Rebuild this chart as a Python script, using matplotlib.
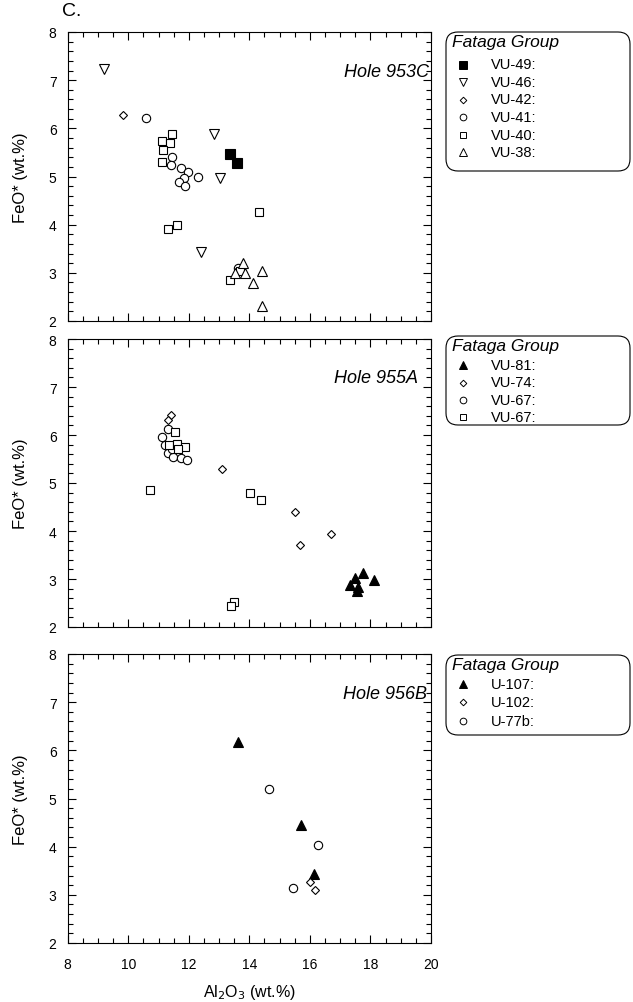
import matplotlib
matplotlib.use("Agg")
import matplotlib.pyplot as plt
from matplotlib.patches import FancyBboxPatch
from matplotlib.ticker import MultipleLocator

plt.rcParams["font.family"] = ["Liberation Sans", "DejaVu Sans"]

# Hole 953C
vu49_al = [13.36, 13.58]
vu49_fe = [5.46, 5.27]
vu46_al = [9.21, 12.84, 13.03, 12.40]
vu46_fe = [7.24, 5.89, 4.97, 3.43]
vu42_al = [9.84]
vu42_fe = [6.28]
vu41_al = [10.59, 11.45, 11.40, 11.74, 11.96, 11.85, 11.68, 11.87, 12.29, 13.62]
vu41_fe = [6.21, 5.41, 5.23, 5.17, 5.10, 4.96, 4.88, 4.81, 4.99, 3.10]
vu40_al = [11.44, 11.10, 11.38, 11.16, 11.13, 11.32, 11.60, 14.32, 13.36, 13.68]
vu40_fe = [5.875, 5.74, 5.70, 5.54, 5.31, 3.90, 3.99, 4.26, 2.85, 3.04]
vu38_al = [13.80, 13.52, 13.85, 14.43, 14.13, 14.43]
vu38_fe = [3.20, 3.00, 3.00, 3.03, 2.79, 2.32]

# Hole 955A
vu81_al = [17.74, 17.48, 18.12, 17.34, 17.59, 17.56]
vu81_fe = [3.12, 3.02, 2.97, 2.87, 2.83, 2.76]
vu74_al = [11.40, 11.30, 13.11, 15.50, 16.71, 15.67]
vu74_fe = [6.42, 6.31, 5.29, 4.40, 3.93, 3.70]
vu67c_al = [11.32, 11.10, 11.21, 11.32, 11.49, 11.73, 11.93, 11.45]
vu67c_fe = [6.12, 5.95, 5.80, 5.62, 5.55, 5.53, 5.48, 5.70]
vu67s_al = [11.54, 11.35, 11.60, 11.89, 11.65, 10.72, 14.02, 14.40, 13.50, 13.38]
vu67s_fe = [6.07, 5.79, 5.81, 5.74, 5.70, 4.86, 4.80, 4.65, 2.52, 2.43]

# Hole 956B
u107_al = [13.64, 15.70, 16.13]
u107_fe = [6.18, 4.44, 3.43]
u102_al = [16.00, 16.16]
u102_fe = [3.27, 3.10]
u77b_al = [14.65, 16.26, 15.43]
u77b_fe = [5.19, 4.04, 3.14]

# marker styles: (marker, size, filled)
SQ_F = ("s", 7.5, True)
TRI_D = ("v", 6.5, False)
DIA = ("D", 4.2, False)
CIRC = ("o", 6.0, False)
SQ = ("s", 6.0, False)
TRI_U = ("^", 6.5, False)
TRI_F = ("^", 6.5, True)

panels = [
    ("Hole 953C", 0.995, [
        ("VU-49:", vu49_al, vu49_fe, SQ_F),
        ("VU-46:", vu46_al, vu46_fe, TRI_D),
        ("VU-42:", vu42_al, vu42_fe, DIA),
        ("VU-41:", vu41_al, vu41_fe, CIRC),
        ("VU-40:", vu40_al, vu40_fe, SQ),
        ("VU-38:", vu38_al, vu38_fe, TRI_U),
    ]),
    ("Hole 955A", 0.965, [
        ("VU-81:", vu81_al, vu81_fe, TRI_F),
        ("VU-74:", vu74_al, vu74_fe, DIA),
        ("VU-67:", vu67c_al, vu67c_fe, CIRC),
        ("VU-67:", vu67s_al, vu67s_fe, SQ),
    ]),
    ("Hole 956B", 0.99, [
        ("U-107:", u107_al, u107_fe, TRI_F),
        ("U-102:", u102_al, u102_fe, DIA),
        ("U-77b:", u77b_al, u77b_fe, CIRC),
    ]),
]

W, H = 633, 1003
fig = plt.figure(figsize=(W / 100, H / 100), dpi=100)

# axes frames in pixels: (top, bottom)
frames = [(33, 322), (340, 628), (655, 944)]
ax_left, ax_right = 67.7, 431
# legend boxes in pixels: (top, bottom, first row offset, row step)
legend_boxes = [(32, 173, 33.5, 17.5), (336, 427, 30, 17.5), (655, 737, 30, 18.3)]


def fx(px):
    return px / W


def fy(py):
    return 1 - py / H


for i, (hole, hx, series) in enumerate(panels):
    top, bot = frames[i]
    ax = fig.add_axes([fx(ax_left), fy(bot), fx(ax_right) - fx(ax_left), (bot - top) / H])
    for label, xs, ys, (m, ms, filled) in series:
        ax.plot(xs, ys, linestyle="none", marker=m, markersize=ms,
                markerfacecolor="black" if filled else "white",
                markeredgecolor="black", markeredgewidth=0.8, clip_on=False)
    ax.set_xlim(8, 20)
    ax.set_ylim(2, 8)
    ax.xaxis.set_major_locator(MultipleLocator(2))
    ax.xaxis.set_minor_locator(MultipleLocator(0.5))
    ax.yaxis.set_major_locator(MultipleLocator(1))
    ax.yaxis.set_minor_locator(MultipleLocator(0.2))
    ax.tick_params(which="both", direction="in", top=True, right=True,
                   labelsize=10, width=0.8)
    ax.tick_params(axis="y", pad=8)
    ax.tick_params(axis="x", pad=10)
    ax.tick_params(which="major", length=6)
    ax.tick_params(which="minor", length=3.5)
    for s in ax.spines.values():
        s.set_linewidth(0.8)
    if i < 2:
        ax.tick_params(labelbottom=False)
    else:
        ax.set_xlabel("Al$_2$O$_3$ (wt.%)", fontsize=11.5, labelpad=8)
    ax.set_ylabel("FeO* (wt.%)", fontsize=12, labelpad=15)
    ax.text(hx, 0.865, hole, transform=ax.transAxes, ha="right", va="center",
            fontsize=13, style="italic")

    # legend box drawn on its own axes
    ltop, lbot, row0, row_step = legend_boxes[i]
    lx0, lx1 = 445, 631
    lax = fig.add_axes([fx(lx0), fy(lbot), fx(lx1) - fx(lx0), (lbot - ltop) / H])
    lax.set_xlim(lx0, lx1)
    lax.set_ylim(lbot, ltop)
    lax.axis("off")
    box = FancyBboxPatch((lx0 + 1, ltop + 1), lx1 - lx0 - 2, lbot - ltop - 2,
                         boxstyle="round,pad=0,rounding_size=12",
                         facecolor="white", edgecolor="black", linewidth=0.8,
                         clip_on=False)
    lax.add_patch(box)
    lax.text(lx0 + 7, ltop + 11, "Fataga Group", ha="left", va="center",
             fontsize=12.5, style="italic")
    for j, (label, xs, ys, (m, ms, filled)) in enumerate(series):
        ry = ltop + row0 + j * row_step
        lax.plot([463], [ry], linestyle="none", marker=m, markersize=ms * 0.8,
                 markerfacecolor="black" if filled else "white",
                 markeredgecolor="black", markeredgewidth=0.7, clip_on=False)
        lax.text(491, ry, label, ha="left", va="center", fontsize=10.5)

fig.text(fx(62), fy(11), "C.", ha="left", va="center", fontsize=14)

fig.savefig("out.png", dpi=100)
